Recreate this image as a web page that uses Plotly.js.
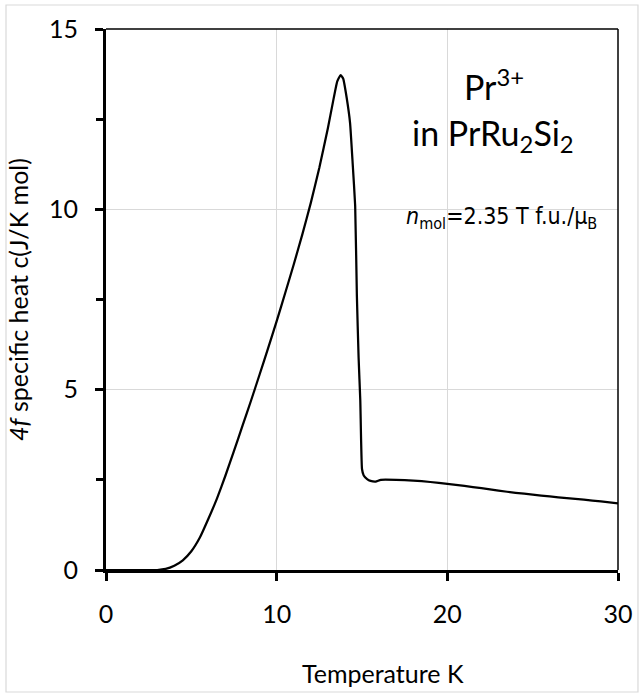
<!DOCTYPE html>
<html>
<head>
<meta charset="utf-8">
<script src="https://cdn.plot.ly/plotly-3.0.1.min.js"></script>
<style>
  html, body { margin: 0; padding: 0; background: #ffffff; }
  #chart { width: 644px; height: 698px; }
</style>
</head>
<body>
<div id="chart"></div>
<script>
// Temperature (K)
const temperature = [
  0, 1, 2, 3.0, 3.5, 4.0, 4.5, 5.0, 5.5, 6.0, 6.5, 7.0, 7.5, 8.0, 8.5, 9.0, 9.5,
  10.0, 10.5, 11.0, 11.5, 12.0, 12.5, 13.0, 13.3, 13.55, 13.75, 13.9, 14.1,
  14.3, 14.45, 14.6, 14.7, 14.8, 14.9, 15.0, 15.1, 15.3, 15.5, 15.8, 16.1,
  17, 18, 19, 20, 21, 22, 23, 24, 25, 26, 27, 28, 29, 30
];
// 4f specific heat c (J/K mol)
const specificHeat = [
  0, 0, 0, 0, 0.03, 0.12, 0.27, 0.52, 0.9, 1.42, 1.98, 2.62, 3.3, 4.0, 4.7, 5.42, 6.15,
  6.9, 7.68, 8.47, 9.3, 10.18, 11.15, 12.25, 12.98, 13.55, 13.72, 13.62, 13.1,
  12.4, 11.3, 10.1, 7.6, 5.9, 4.7, 2.8, 2.62, 2.52, 2.47, 2.45, 2.5,
  2.5, 2.48, 2.44, 2.39, 2.33, 2.27, 2.2, 2.14, 2.09, 2.04, 1.99, 1.95, 1.9, 1.85
];
const xTickVals = [0, 10, 20, 30];
const yTickVals = [0, 5, 10, 15];

const fontMain = "Lato, 'Open Sans', sans-serif";
const fontNarrow = "'Liberation Sans Narrow', 'DejaVu Sans Condensed', 'Liberation Sans', sans-serif";

const trace = {
  x: temperature,
  y: specificHeat,
  type: 'scatter',
  mode: 'lines',
  line: { color: '#000000', width: 2.25, shape: 'spline', smoothing: 0.4 },
  hoverinfo: 'skip',
  showlegend: false
};

const layout = {
  width: 644,
  height: 698,
  margin: { l: 106, r: 26, t: 29, b: 128 },
  paper_bgcolor: '#ffffff',
  plot_bgcolor: '#ffffff',
  showlegend: false,
  font: { family: fontMain, size: 25, color: '#000000' },
  xaxis: {
    range: [0, 30],
    tickvals: xTickVals,
    ticktext: xTickVals.map(String),
    ticks: 'outside',
    ticklen: 8,
    tickwidth: 3,
    tickcolor: '#000000',
    showline: true,
    linewidth: 3,
    linecolor: '#000000',
    showgrid: true,
    gridcolor: '#d9d9d9',
    gridwidth: 1,
    zeroline: false,
    tickfont: { family: fontMain, size: 25, color: '#000000' },
    ticklabelstandoff: 12,
    fixedrange: true
  },
  yaxis: {
    range: [0, 15],
    tickvals: yTickVals,
    ticktext: yTickVals.map(String),
    ticks: 'outside',
    ticklen: 8,
    tickwidth: 3,
    tickcolor: '#000000',
    minor: { tickvals: [2.5, 7.5, 12.5], ticks: 'outside', ticklen: 7, tickwidth: 3, tickcolor: '#000000', showgrid: false },
    showline: true,
    linewidth: 3,
    linecolor: '#000000',
    showgrid: true,
    gridcolor: '#d9d9d9',
    gridwidth: 1,
    zeroline: false,
    tickfont: { family: fontMain, size: 25, color: '#000000' },
    ticklabelstandoff: 12,
    title: {
      text: '<i>4f</i> specific heat c(J/K mol)',
      font: { family: fontMain, size: 25, color: '#000000' },
      standoff: 14
    },
    fixedrange: true
  },
  shapes: [
    { type: 'line', xref: 'paper', yref: 'paper', x0: 0, x1: 1, y0: 1, y1: 1, line: { color: '#000000', width: 1.5 } },
    { type: 'line', xref: 'paper', yref: 'paper', x0: 1, x1: 1, y0: 0, y1: 1, line: { color: '#000000', width: 1.5 } },
    { type: 'rect', xref: 'paper', yref: 'paper', x0: -0.1953, x1: 1.039, y0: -0.2255, y1: 1.0444,
      line: { color: '#d9d9d9', width: 1.2 }, fillcolor: 'rgba(0,0,0,0)', layer: 'below' }
  ],
  annotations: [
    { x: 22.76, y: 13.45, xref: 'x', yref: 'y', text: 'Pr<sup>3+</sup>', showarrow: false,
      xanchor: 'center', yanchor: 'middle', font: { family: fontMain, size: 34, color: '#000000' } },
    { x: 22.7, y: 12.05, xref: 'x', yref: 'y', text: 'in PrRu<sub>2</sub>Si<sub>2</sub>', showarrow: false,
      xanchor: 'center', yanchor: 'middle', font: { family: fontMain, size: 34, color: '#000000' } },
    { x: 23.2, y: 9.75, xref: 'x', yref: 'y', text: '<i>n</i><sub>mol</sub>=2.35 T f.u./μ<sub>B</sub>', showarrow: false,
      xanchor: 'center', yanchor: 'middle', font: { family: fontNarrow, size: 23, color: '#000000' } },
    { x: (383 - 106) / 512 * 30, xref: 'x', y: -0.19, yref: 'paper', text: 'Temperature K', showarrow: false,
      xanchor: 'center', yanchor: 'middle', font: { family: fontMain, size: 25, color: '#000000' } }
  ]
};

Plotly.newPlot('chart', [trace], layout, { displayModeBar: false, staticPlot: true });
</script>
</body>
</html>
